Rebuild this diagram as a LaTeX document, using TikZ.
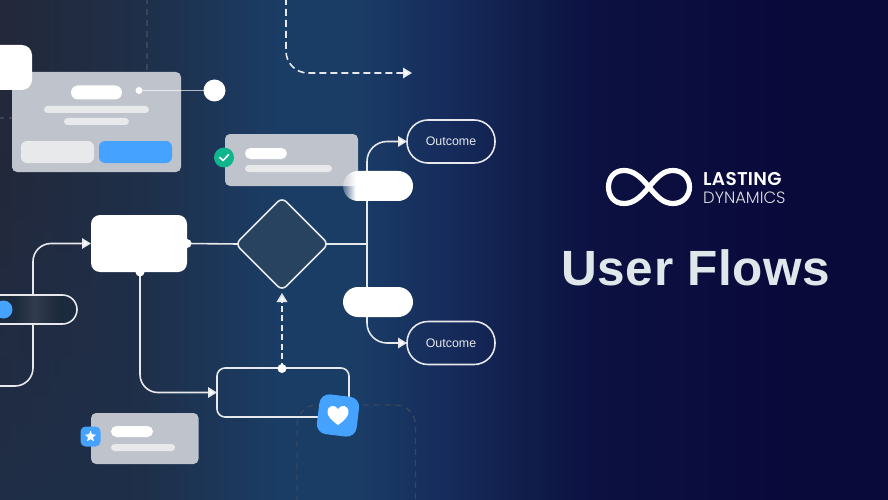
\documentclass[tikz,border=0pt]{standalone}
\usepackage{fontspec}
\setmainfont{Liberation Sans}
\newfontfamily\popb[UprightFont=* SemiBold,LetterSpace=1.5]{Poppins}
\newfontfamily\popl[UprightFont=* Light]{Poppins}
\newfontfamily\titlefont[UprightFont=* Bold,LetterSpace=1.2]{Liberation Sans}
\usetikzlibrary{arrows.meta,shapes.geometric,fadings}
\definecolor{cA}{HTML}{23283A}
\definecolor{cB}{HTML}{1F2F49}
\definecolor{cC}{HTML}{1A3D66}
\definecolor{cC2}{HTML}{162C5C}
\definecolor{cD}{HTML}{111F4D}
\definecolor{cE}{HTML}{0C1142}
\definecolor{cF}{HTML}{09093A}
\definecolor{cardc}{HTML}{BEC3CC}
\definecolor{barc}{HTML}{E8E9EB}
\definecolor{bluec}{HTML}{46A2FF}
\definecolor{greenc}{HTML}{10B58C}
\definecolor{linec}{HTML}{E6E8EC}
\definecolor{ghost}{HTML}{38465C}
\definecolor{titlec}{HTML}{DFE7EB}
\definecolor{pdark}{HTML}{1B2A3C}
\definecolor{plight}{HTML}{323C4E}
\definecolor{diamondc}{HTML}{27435F}
\pgfdeclarehorizontalshading{bgshade}{100bp}{color(0bp)=(cA);color(25bp)=(cA);color(33bp)=(cB);color(41bp)=(cC);color(45bp)=(cC);color(50bp)=(cC2);color(54bp)=(cD);color(58.5bp)=(cE);color(70bp)=(cF);color(100bp)=(cF)}
\pgfdeclarehorizontalshading{pillshade}{100bp}{color(0bp)=(pdark);color(46bp)=(pdark);color(55bp)=(plight);color(66bp)=(pdark);color(100bp)=(pdark)}
\pgfdeclarehorizontalshading{pillfadeS}{100bp}{color(0bp)=(pgftransparent!75);color(25bp)=(pgftransparent!75);color(34bp)=(pgftransparent!0);color(100bp)=(pgftransparent!0)}
\pgfdeclarefading{pillfade}{\pgfuseshading{pillfadeS}}
\tikzfading[name=fadeup,bottom color=transparent!15,top color=transparent!100]
\pgfdeclarelayer{conn}
\pgfsetlayers{conn,main}
\tikzset{
 x=1pt,y=-1pt,
 block/.style={inner sep=0pt,outer sep=0pt,minimum width=#1},
 card/.style={block=#1,fill=cardc,rounded corners=5pt},
 whitebar/.style={block=#1,minimum height=11pt,fill=white,rounded corners=5.5pt},
 greybar/.style={block=#1,minimum height=7pt,fill=barc,rounded corners=3.5pt},
 flowline/.style={draw=linec,line width=1.6pt},
 flowarrow/.style={flowline,-{Triangle[length=9pt,width=10.5pt,fill=white]}},
 ghostline/.style={draw=ghost,line width=1.4pt,dash pattern=on 6pt off 5pt},
 outcome/.style={block=88pt,minimum height=43pt,draw=linec,line width=1.6pt,rounded corners=21pt,text=linec,font=\fontsize{12.4}{14}\selectfont},
 whitepill/.style={block=70pt,minimum height=30pt,fill=white,rounded corners=15pt},
 dotnode/.style={circle,fill=white,inner sep=0pt,outer sep=0pt,minimum size=#1},
}
\begin{document}
\begin{tikzpicture}
\useasboundingbox (0,0) rectangle (888,500);
\clip (0,0) rectangle (888,500);
% cards and flow nodes
\node[card=169pt,minimum height=100pt] (cardA) at (96.5,122) {};
\node[block=46pt,minimum height=45pt,fill=white,rounded corners=10pt] (corner) at (9,67.5) {};
\node[whitebar=51pt,minimum height=14pt,rounded corners=7pt] (cardAhead) at (96.5,92.5) {};
\node[greybar=105pt] (cardAl1) at (96.5,109.5) {};
\node[greybar=65pt] (cardAl2) at (96.5,121.5) {};
\node[block=73pt,minimum height=22pt,fill=barc,rounded corners=6pt] (btnA) at (57.5,152) {};
\node[block=73pt,minimum height=22pt,fill=bluec,rounded corners=6pt] (btnB) at (135.5,152) {};
\node[dotnode=7pt] (dotA) at (139,90.5) {};
\node[dotnode=22pt] (dotB) at (214.5,90.5) {};
\node[card=133pt,minimum height=52pt] (cardB) at (291.5,160) {};
\node[whitebar=42pt] (cardBhead) at (266,153.5) {};
\node[greybar=87pt] (cardBl) at (288.5,168.5) {};
\node[dotnode=20pt,fill=greenc] (check) at (224,157.5) {};
\draw[white,line width=1.6pt,line cap=round,line join=round] (219.8,157.5) -- (223,160.5) -- (228.5,154.8);
\node[card=107.5pt,minimum height=51pt] (cardC) at (144.8,438.5) {};
\node[whitebar=42pt] (cardChead) at (132,431.5) {};
\node[greybar=64pt] (cardCl) at (143,447.5) {};
\node[block=20pt,minimum height=20pt,fill=bluec,rounded corners=5pt] (starbox) at (90.5,436.5) {};
\node[star,star points=5,star point ratio=2.3,fill=white,inner sep=0pt,minimum size=12pt,rounded corners=.5pt] (staricon) at (90.5,436.5) {};
\node[block=96pt,minimum height=57pt,fill=white,rounded corners=9pt] (mainbox) at (139,243.5) {};
\node[dotnode=9pt] (mainR) at (187,243.5) {};
\node[dotnode=9pt] (mainB) at (140,272) {};
\node[diamond,aspect=1,draw=linec,line width=1.6pt,fill=diamondc,inner sep=0pt,outer sep=0pt,minimum width=93pt,minimum height=93pt,rounded corners=6pt] (decision) at (282,244) {};
\node[block=107pt,minimum height=29pt,draw=linec,line width=1.6pt,shade,shading=pillshade,rounded corners=14.5pt] (leftpill) at (23.5,309.5) {};
\node[dotnode=18pt,fill=bluec] (leftdot) at (3.5,309.5) {};
\node[block=132pt,minimum height=49pt,draw=linec,line width=1.6pt,rounded corners=8pt] (lowbox) at (283,392.5) {};
\node[dotnode=9pt] (lowtop) at (282,368.5) {};
\node[whitepill,path fading=pillfade] (pillT) at (378,186) {};
\node[whitepill] (pillB) at (378,302) {};
\node[outcome] (outT) at (451,141.5) {Outcome};
\node[outcome] (outB) at (451,343) {Outcome};
\node[block=40pt,minimum height=40pt,fill=bluec,rounded corners=10pt,rotate=-7] (heartbox) at (338,415.5) {};
\fill[white] (338,425) .. controls (331,420) and (327.5,416) .. (327.5,412) .. controls (327.5,405) and (335,404) .. (338,409) .. controls (341,404) and (348.5,405) .. (348.5,412) .. controls (348.5,416) and (345,420) .. (338,425) -- cycle;
% brand
\node[inner sep=0pt,anchor=west,text=white,font=\fontsize{18.5}{20}\popb] (brandA) at (703,179) {LASTING};
\node[inner sep=0pt,anchor=west,text=white!88!black,font=\fontsize{16.4}{18}\popl] (brandB) at (703,198) {DYNAMICS};
\node[inner sep=0pt,text=titlec,font=\fontsize{49.5}{52}\titlefont] (title) at (696,268) {User Flows};
\draw[white,line width=5.2pt,line join=round] (649,187) .. controls (640,176) and (633,170.5) .. (624,170.5) .. controls (614,170.5) and (608.5,178) .. (608.5,187) .. controls (608.5,196) and (614,203.5) .. (624,203.5) .. controls (633,203.5) and (640,198) .. (649,187) .. controls (658,176) and (664,170.5) .. (673,170.5) .. controls (683,170.5) and (689.5,178) .. (689.5,187) .. controls (689.5,196) and (683,203.5) .. (673,203.5) .. controls (664,203.5) and (658,198) .. (649,187) -- cycle;
% connectors
\coordinate (freeTop) at (286,-2);
\coordinate (arrowEnd) at (412,73);
\coordinate (freeLeft) at (-3,386);
\coordinate (spine) at (367,244);
\coordinate (leftBend) at (33,386);
\coordinate (ghostTopA) at (147,-2);
\coordinate (ghostLeft) at (-2,118);
\coordinate (ghostA) at (297,502);
\coordinate (ghostB) at (297,405);
\coordinate (ghostC) at (415.5,405);
\coordinate (ghostD) at (415.5,502);
\begin{pgfonlayer}{conn}
\shade[shading=bgshade] (0,0) rectangle (888,500);
\fill[cB,path fading=fadeup] (0,150) rectangle (150,500);
\draw[ghostline] (ghostTopA) -- (ghostTopA |- cardA.north);
\draw[ghostline] (ghostLeft) -- (ghostLeft -| cardA.west);
\draw[ghostline,rounded corners=20pt] (ghostA) -- (ghostB) -- (ghostC) -- (ghostD);
\draw[flowarrow,dash pattern=on 7pt off 4pt,rounded corners=22pt] (freeTop) -- (freeTop |- arrowEnd) -- (arrowEnd);
\draw[flowarrow,rounded corners=18pt] (freeLeft) -- (leftBend) -- (leftBend |- mainbox.west) -- (mainbox.west);
\draw[flowarrow,rounded corners=18pt] (mainB.center) -- (mainB.center |- lowbox.west) -- (lowbox.west);
\draw[flowline] (mainR.center) -- ([xshift=3pt]decision.west);
\draw[flowline] ([xshift=-3pt]decision.east) -- (spine);
\draw[flowarrow,rounded corners=20pt] (spine) -- (spine |- outT.west) -- (outT.west);
\draw[flowarrow,rounded corners=20pt] (spine) -- (spine |- outB.west) -- (outB.west);
\draw[flowarrow,dash pattern=on 6pt off 3.5pt] (lowtop.center) -- ([yshift=-2.5pt]decision.south);
\end{pgfonlayer}
\draw[white,opacity=.65,line width=1.9pt] (dotA) -- (dotB);
\end{tikzpicture}
\end{document}
